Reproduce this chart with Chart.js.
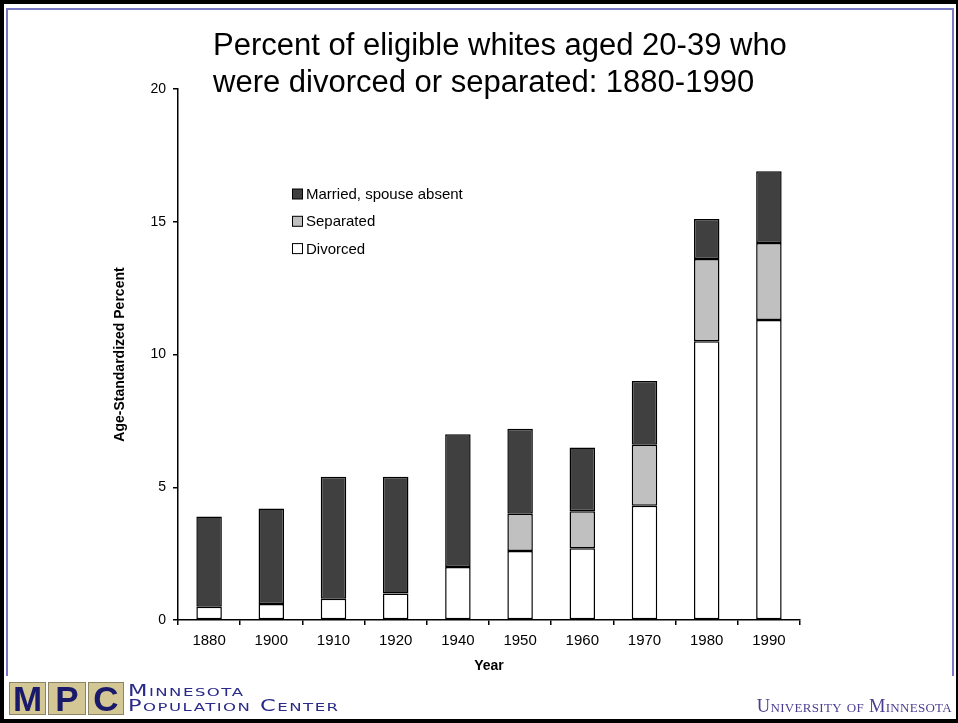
<!DOCTYPE html>
<html>
<head>
<meta charset="utf-8">
<script src="https://cdn.jsdelivr.net/npm/chart.js@4.4.1/dist/chart.umd.min.js"></script>
<style>
  html, body { margin: 0; padding: 0; background: #fff; }
  #page { position: relative; width: 958px; height: 723px; overflow: hidden; background: #fff; }
  #outer { position: absolute; left: 0; top: 0; width: 952px; height: 715px;
           border-style: solid; border-color: #000; border-width: 4px 2px 4px 4px; }
  .frame { position: absolute; background: #7878c4; }
  #chart { position: absolute; left: 0; top: 0; }
  #title { position: absolute; left: 213px; top: 26px; font-family: 'Liberation Sans', Arial, sans-serif;
           font-size: 31px; line-height: 37px; color: #000; white-space: nowrap; }
  .mpcbox { position: absolute; top: 682px; height: 31px; background: #d4c796; border: 1px solid #8c8464;
            color: #1a1a6a; font-family: 'Liberation Sans', Arial, sans-serif; font-weight: bold;
            font-size: 35px; line-height: 32px; text-align: center; }
  .mpctext { position: absolute; left: 128px; font-family: 'DejaVu Sans', sans-serif; color: #2a2a8a;
             font-variant: small-caps; font-size: 15px; letter-spacing: 1px; line-height: 15px;
             transform: scaleX(1.5); transform-origin: left top; white-space: nowrap; }
  #umn { position: absolute; right: 6px; top: 697px; font-family: 'Liberation Serif', 'DejaVu Serif', serif;
         font-variant: small-caps; color: #4a3e90; font-size: 18.5px; line-height: 18px; letter-spacing: 0.3px; }
</style>
</head>
<body>
<div id="page">
  <div id="outer"></div>
  <div class="frame" style="left:6px; top:8px; width:948px; height:2px;"></div>
  <div class="frame" style="left:6px; top:8px; width:2px; height:668px;"></div>
  <div class="frame" style="left:952px; top:8px; width:2px; height:668px;"></div>

  <canvas id="chart" width="958" height="723"></canvas>

  <div id="title">Percent of eligible whites aged 20-39 who<br>were divorced or separated: 1880-1990</div>

  <div class="mpcbox" style="left:9px; width:35px;">M</div>
  <div class="mpcbox" style="left:48px; width:36px;">P</div>
  <div class="mpcbox" style="left:88px; width:34px;">C</div>
  <div class="mpctext" style="top:684px;">Minnesota</div>
  <div class="mpctext" style="top:699px;">Population Center</div>
  <div id="umn">University of Minnesota</div>
</div>

<script>
const years = ['1880', '1900', '1910', '1920', '1940', '1950', '1960', '1970', '1980', '1990'];
const divorced = [0.5, 0.6, 0.8, 1.0, 2.0, 2.6, 2.7, 4.3, 10.5, 11.3];
const separated = [0, 0, 0, 0, 0, 1.4, 1.4, 2.3, 3.1, 2.9];
const spouseAbsent = [3.4, 3.6, 4.6, 4.4, 5.0, 3.2, 2.4, 2.4, 1.5, 2.7];
const yMin = 0, yMax = 20, yStep = 5;

const FONT = "'Liberation Sans', Arial, sans-serif";

// legend sits inside the plot, top series first
const boxLegend = {
  id: 'boxLegend',
  afterDraw(chart) {
    const ctx = chart.ctx;
    const items = chart.data.datasets.slice().reverse();
    ctx.save();
    ctx.font = '15px ' + FONT;
    ctx.textBaseline = 'middle';
    items.forEach((ds, i) => {
      const y = 194 + i * 27.3;
      ctx.fillStyle = ds.backgroundColor;
      ctx.fillRect(292.5, y - 5, 10, 10);
      ctx.strokeStyle = '#000';
      ctx.lineWidth = 1;
      ctx.strokeRect(292.5, y - 5, 10, 10);
      ctx.fillStyle = '#000';
      ctx.fillText(ds.label, 306, y + 1);
    });
    ctx.restore();
  }
};

const makeSet = (label, data, color) => ({
  label: label,
  data: data,
  backgroundColor: color,
  borderColor: '#000',
  borderWidth: 1.5,
  borderSkipped: false,
  barPercentage: 0.41,
  categoryPercentage: 1.0
});

const ctx = document.getElementById('chart').getContext('2d');
let myChart = new Chart(ctx, {
  type: 'bar',
  data: {
    labels: years,
    datasets: [
      makeSet('Divorced', divorced, '#ffffff'),
      makeSet('Separated', separated, '#c0c0c0'),
      makeSet('Married, spouse absent', spouseAbsent, '#404040')
    ]
  },
  options: {
    responsive: false,
    animation: false,
    devicePixelRatio: 1,
    layout: { padding: { left: 0, top: 89, right: 158, bottom: 48 } },
    plugins: { legend: { display: false }, tooltip: { enabled: false } },
    scales: {
      x: {
        stacked: true,
        grid: { offset: true, drawOnChartArea: false, drawTicks: true, tickLength: 5, color: '#000', lineWidth: 1.5 },
        border: { display: true, color: '#000', width: 1.5 },
        ticks: { color: '#000', font: { family: FONT, size: 15 }, padding: 7, maxRotation: 0 },
        title: { display: true, text: 'Year', color: '#000', font: { family: FONT, size: 14, weight: 'bold' }, padding: 0 },
        afterFit: (scale) => { scale.height = 55; }
      },
      y: {
        stacked: true,
        min: yMin,
        max: yMax,
        grid: { drawOnChartArea: false, drawTicks: true, tickLength: 5, color: '#000', lineWidth: 1.5 },
        border: { display: true, color: '#000', width: 1.5 },
        ticks: { stepSize: yStep, color: '#000', font: { family: FONT, size: 14 }, padding: 7 },
        title: { display: true, text: 'Age-Standardized Percent', color: '#000',
                 font: { family: FONT, size: 14, weight: 'bold' }, padding: { top: 112, bottom: 0 } },
        afterFit: (scale) => { scale.width = 178; }
      }
    }
  },
  plugins: [boxLegend]
});
</script>
</body>
</html>
